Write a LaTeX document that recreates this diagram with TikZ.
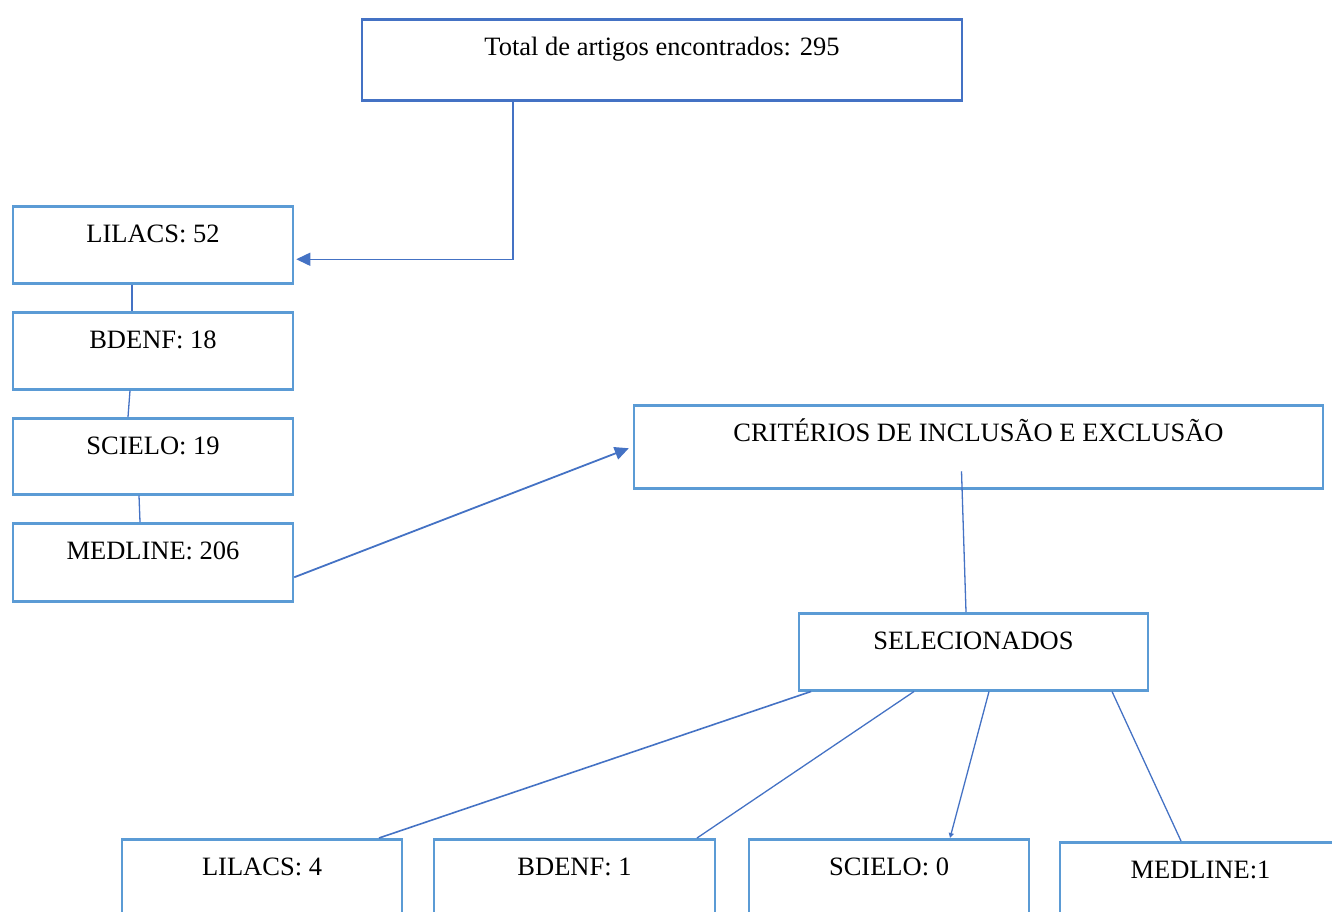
\documentclass[tikz,border=0pt]{standalone}
\usepackage{fontspec}
\setmainfont{Liberation Serif}
\usetikzlibrary{arrows.meta,calc}
\definecolor{boxblue}{HTML}{5B9BD5}
\definecolor{darkblue}{HTML}{4472C4}
\begin{document}
\begin{tikzpicture}[x=1pt,y=-1pt,
  box/.style={draw=boxblue, line width=2.5pt, inner sep=0pt, anchor=north,
    font=\fontsize{26.5}{30}\selectfont, text height=36pt},
  conn/.style={draw=darkblue, line width=1.3pt},
  tip/.style={-{Triangle[length=14pt,width=13pt]}}]
\useasboundingbox (0,0) rectangle (1332,911);
% top
\node[box, draw=darkblue, minimum width=600pt, text depth=45pt] (top) at (662,18) {Total de artigos encontrados: 295};
% left column
\node[box, minimum width=280pt, text depth=41pt] (lil) at (153,205) {LILACS: 52};
\node[box, minimum width=280pt, text depth=41pt] (bde) at (153,311) {BDENF: 18};
\node[box, minimum width=280pt, text depth=40pt] (sci) at (153,417) {SCIELO: 19};
\node[box, minimum width=280pt, text depth=42pt] (med) at (153,522) {MEDLINE: 206};
% criteria
\node[box, minimum width=689pt, text depth=47pt] (crit) at (978.5,404) {CRITÉRIOS DE INCLUSÃO E EXCLUSÃO};
\node[box, minimum width=349pt, text depth=41pt] (sel) at (973.5,612) {SELECIONADOS};
% bottom
\node[box, minimum width=280pt, text depth=46pt] (blil) at (262,838) {LILACS: 4};
\node[box, minimum width=281pt, text depth=46pt] (bbde) at (574.5,838) {BDENF: 1};
\node[box, minimum width=280pt, text depth=46pt] (bsci) at (889,838) {SCIELO: 0};
\node[box, minimum width=281pt, text depth=46pt] (bmed) at (1200.5,841) {MEDLINE:1};
% connectors
\draw[conn, line width=1.5pt, tip] ($(top.south)+(-149,0)$) |- ($(lil.east)+(2,14.5)$);
\draw[conn] ($(lil.south)+(-21,0)$) -- ($(bde.north)+(-21,0)$);
\draw[conn] ($(bde.south)+(-23,0)$) -- ($(sci.north)+(-25,0)$);
\draw[conn] ($(sci.south)+(-14,0)$) -- ($(med.north)+(-13,0)$);
\draw[conn, line width=1.8pt, tip] ($(med.east)+(0,15)$) -- ($(crit.west)+(-4,1.5)$);
\draw[conn] ($(crit.center)+(-17,24.5)$) -- ($(sel.north)+(-7.5,0)$);
\draw[conn, line width=1.6pt] ($(sel.south)+(-162.5,0)$) -- ($(blil.north)+(117,0)$);
\draw[conn] ($(sel.south)+(-59.5,0)$) -- ($(bbde.north)+(122.5,0)$);
\draw[conn, -{Triangle[length=5pt,width=5pt]}] ($(sel.south)+(15.5,0)$) -- ($(bsci.north)+(61,0)$);
\draw[conn] ($(sel.south)+(138.5,0)$) -- ($(bmed.north)+(-19.5,0)$);
\end{tikzpicture}
\end{document}
